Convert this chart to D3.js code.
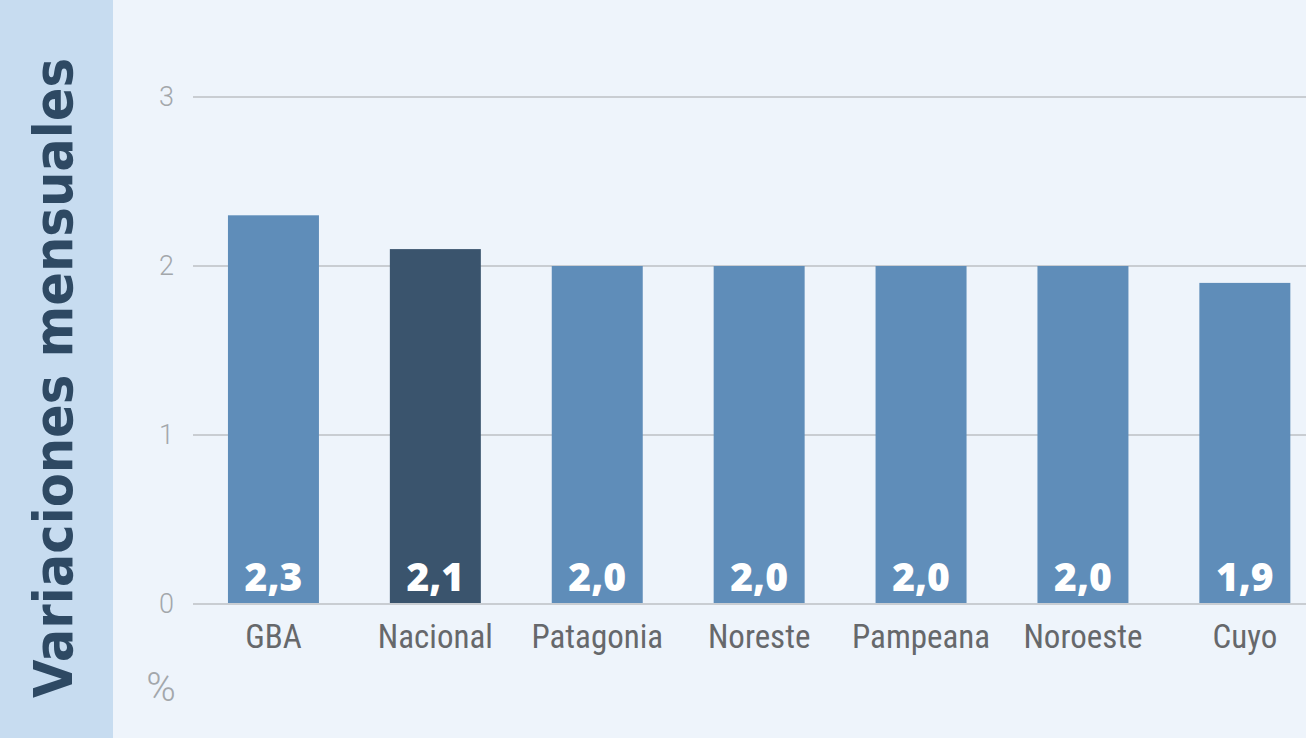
<!DOCTYPE html>
<html>
<head>
<meta charset="utf-8">
<script src="https://cdn.jsdelivr.net/npm/d3@7"></script>
<style>
  html, body { margin:0; padding:0; background:#eef4fb; overflow:hidden; }
</style>
</head>
<body>
<div id="chart"></div>
<script>
// monthly variation by region
const regions = ['GBA','Nacional','Patagonia','Noreste','Pampeana','Noroeste','Cuyo'];
const values  = [2.3, 2.1, 2.0, 2.0, 2.0, 2.0, 1.9];
const yTicks  = [0, 1, 2, 3];
const highlight = 'Nacional';

(function(){
  const width = 1306, height = 738;
  const svg = d3.select('#chart').append('svg')
    .attr('width', width)
    .attr('height', height);

  svg.append('rect')
    .attr('width', width).attr('height', height)
    .attr('fill', '#eef4fb');

  // left side panel with title
  svg.append('rect')
    .attr('width', 113).attr('height', height)
    .attr('fill', '#c7dcf0');

  svg.append('text')
    .attr('transform', 'translate(72,378) rotate(-90)')
    .attr('text-anchor', 'middle')
    .attr('font-family', '"DejaVu Sans", sans-serif')
    .attr('font-weight', 700)
    .attr('font-size', '53px')
    .attr('textLength', 640)
    .attr('lengthAdjust', 'spacingAndGlyphs')
    .attr('fill', '#2e4963')
    .text('Variaciones mensuales');

  const x = d3.scaleBand()
    .domain(regions)
    .range([192.5, 1325.8])
    .paddingInner(0.438)
    .paddingOuter(0.219);

  const y = d3.scaleLinear()
    .domain([0, 3])
    .range([604, 97]);

  // grid + tick labels
  const grid = svg.append('g');
  grid.selectAll('line')
    .data(yTicks)
    .enter().append('line')
    .attr('x1', 193).attr('x2', width)
    .attr('y1', d => y(d)).attr('y2', d => y(d))
    .attr('stroke', '#c9cdd2')
    .attr('stroke-width', 2);

  grid.selectAll('text')
    .data(yTicks)
    .enter().append('text')
    .attr('x', 174)
    .attr('y', d => y(d) + 9)
    .attr('text-anchor', 'end')
    .attr('font-family', 'Roboto, sans-serif')
    .attr('font-weight', 300)
    .attr('font-size', '27px')
    .attr('fill', '#a3a7ab')
    .text(d => d);

  // bars
  const data = regions.map((r, i) => ({region: r, value: values[i]}));
  const bars = svg.append('g');
  bars.selectAll('rect')
    .data(data)
    .enter().append('rect')
    .attr('x', d => x(d.region))
    .attr('width', x.bandwidth())
    .attr('y', d => y(d.value))
    .attr('height', d => y(0) - y(d.value))
    .attr('fill', d => d.region === highlight ? '#3a546d' : '#5f8db9');

  // zero line drawn over bars
  svg.append('line')
    .attr('x1', 193).attr('x2', width)
    .attr('y1', y(0)).attr('y2', y(0))
    .attr('stroke', '#c9cdd2')
    .attr('stroke-width', 2);

  // value labels
  bars.selectAll('text.val')
    .data(data)
    .enter().append('text')
    .attr('class', 'val')
    .attr('x', d => x(d.region) + x.bandwidth() / 2)
    .attr('y', y(0) - 13)
    .attr('text-anchor', 'middle')
    .attr('font-family', '"Open Sans", Lato, sans-serif')
    .attr('font-weight', 800)
    .attr('font-size', '39px')
    .attr('fill', '#ffffff')
    .text(d => d3.format('.1f')(d.value).replace('.', ','));

  // category labels
  svg.append('g').selectAll('text')
    .data(regions)
    .enter().append('text')
    .attr('x', d => x(d) + x.bandwidth() / 2)
    .attr('y', 648)
    .attr('text-anchor', 'middle')
    .attr('font-family', '"Liberation Sans Narrow", "Roboto Condensed", Roboto, sans-serif')
    .attr('font-size', '33px')
    .attr('fill', '#66686b')
    .text(d => d);

  svg.append('text')
    .attr('x', 161)
    .attr('y', 701)
    .attr('text-anchor', 'middle')
    .attr('font-family', 'Roboto, sans-serif')
    .attr('font-weight', 300)
    .attr('font-size', '40px')
    .attr('fill', '#a3a7ab')
    .text('%');
})();
</script>
</body>
</html>
